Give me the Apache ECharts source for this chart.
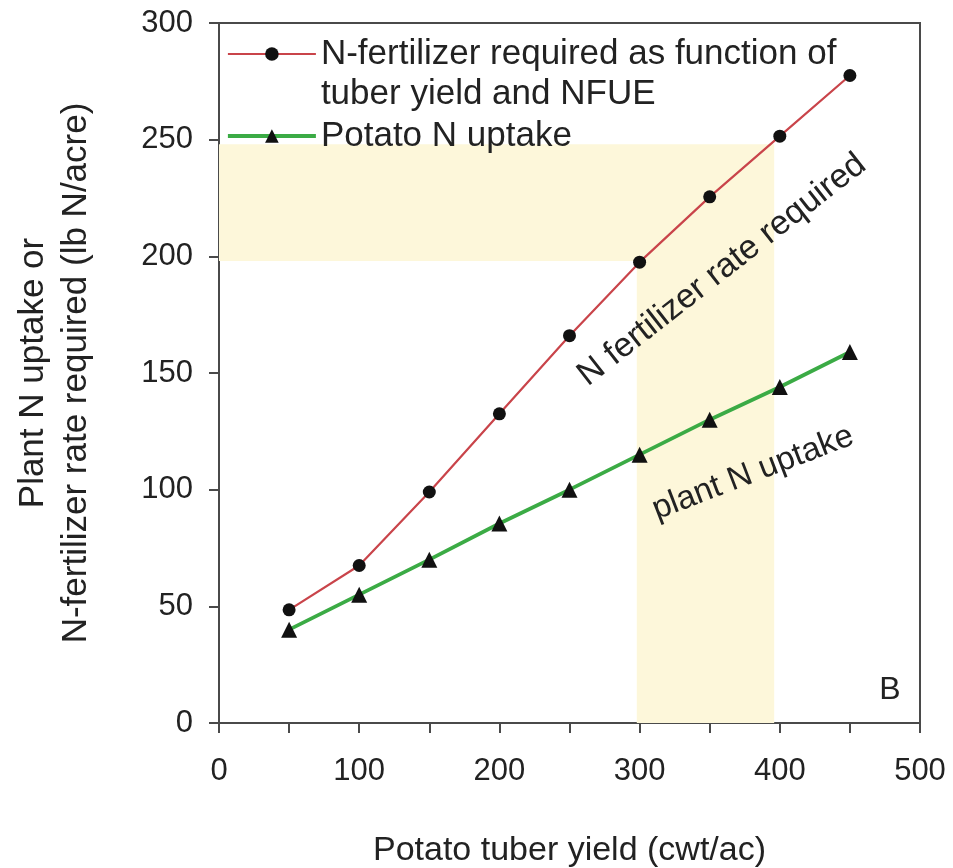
<!DOCTYPE html>
<html>
<head>
<meta charset="utf-8">
<script src="https://cdn.jsdelivr.net/npm/echarts@6/dist/echarts.min.js"></script>
<style>
  html, body { margin: 0; padding: 0; background: #fff; }
  #chart { width: 953px; height: 868px; }
</style>
</head>
<body>
<div id="chart"></div>
<script>
const FONT = '"Liberation Sans", Arial, sans-serif'
const INK = '#222'

// tuber yield (cwt/ac)
const yieldX = [50, 100, 150, 200, 250, 300, 350, 400, 450]
// N fertilizer required (lb N/acre)
const fertReq = [48.5, 67.5, 99, 132.5, 166, 197.5, 225.5, 251.5, 277.5]
// plant N uptake (lb N/acre)
const uptake = [40, 55, 70, 85.5, 100, 115, 130, 144, 159]

const xTickLabels = [0, 100, 200, 300, 400, 500]
const yTickLabels = [0, 50, 100, 150, 200, 250, 300]

// shaded target zone: [x0, y0], [x1, y1]
const hBand = [[0, 198], [396, 248]]
const vBand = [[298, 0], [396, 198]]

const NAME_FERT = 'N-fertilizer required as function of\ntuber yield and NFUE'
const NAME_UPTAKE = 'Potato N uptake'

const chart = echarts.init(document.getElementById('chart'), null, { renderer: 'canvas' })

const axisStyle = { color: '#4a4a4a', width: 2 }

chart.setOption({
  animation: false,
  textStyle: { fontFamily: FONT, color: INK },
  grid: {
    left: 219, top: 23, right: 33, bottom: 145,
    outerBoundsMode: 'none',
    show: true, borderColor: '#4a4a4a', borderWidth: 2, backgroundColor: 'transparent'
  },
  legend: {
    orient: 'vertical', left: 226, top: -6, padding: 0,
    itemWidth: 88, itemHeight: 17, itemGap: 2,
    lineStyle: { width: 'inherit' },
    textStyle: { fontFamily: FONT, fontSize: 35, color: INK, lineHeight: 40 },
    // empty first line keeps the marker level with the first text line
    formatter: name => (name === NAME_FERT ? '\n' + name : name),
    data: [NAME_FERT, NAME_UPTAKE]
  },
  xAxis: {
    type: 'value', min: 0, max: 500, interval: 50,
    name: 'Potato tuber yield (cwt/ac)', nameLocation: 'middle', nameGap: 111,
    nameTextStyle: { fontFamily: FONT, fontSize: 34, color: INK },
    axisLine: { show: true, lineStyle: axisStyle },
    axisTick: { show: true, length: 10, lineStyle: axisStyle },
    axisLabel: {
      margin: 33, fontSize: 31, fontFamily: FONT, color: INK,
      formatter: v => (xTickLabels.includes(v) ? String(v) : '')
    },
    splitLine: { show: false }
  },
  yAxis: {
    type: 'value', min: 0, max: 300, interval: 50,
    name: 'Plant N uptake or\nN-fertilizer rate required (lb N/acre)',
    nameLocation: 'middle', nameRotate: 90, nameGap: 121,
    nameTextStyle: { fontFamily: FONT, fontSize: 35, color: INK, lineHeight: 43 },
    axisLine: { show: true, lineStyle: axisStyle },
    axisTick: { show: true, length: 10, lineStyle: axisStyle },
    axisLabel: {
      margin: 26, fontSize: 31, fontFamily: FONT, color: INK,
      formatter: v => (yTickLabels.includes(v) ? String(v) : '')
    },
    splitLine: { show: false }
  },
  series: [
    {
      name: 'zone', type: 'line', data: [], z: 1, silent: true,
      markArea: {
        silent: true,
        itemStyle: { color: '#fdf7da', opacity: 1 },
        data: [
          [{ coord: hBand[0] }, { coord: hBand[1] }],
          [{ coord: vBand[0] }, { coord: vBand[1] }]
        ]
      }
    },
    {
      name: NAME_FERT, type: 'line', z: 3,
      data: yieldX.map((x, i) => [x, fertReq[i]]),
      symbol: 'circle', symbolSize: 13,
      itemStyle: { color: '#111' },
      lineStyle: { color: '#c9444a', width: 2.2 }
    },
    {
      name: NAME_UPTAKE, type: 'line', z: 3,
      data: yieldX.map((x, i) => [x, uptake[i]]),
      symbol: 'triangle', symbolSize: 16,
      itemStyle: { color: '#111' },
      lineStyle: { color: '#3bab45', width: 3.8 }
    }
  ],
  graphic: [
    {
      type: 'text', x: 722, y: 270, z: 100, rotation: 38 * Math.PI / 180, silent: true,
      style: { text: 'N fertilizer rate required', fontFamily: FONT, fontSize: 34, fill: INK, align: 'center', verticalAlign: 'middle' }
    },
    {
      type: 'text', x: 753, y: 473, z: 100, rotation: 21 * Math.PI / 180, silent: true,
      style: { text: 'plant N uptake', fontFamily: FONT, fontSize: 33, fill: INK, align: 'center', verticalAlign: 'middle' }
    },
    {
      type: 'text', x: 890, y: 690, z: 100, silent: true,
      style: { text: 'B', fontFamily: FONT, fontSize: 32, fill: INK, align: 'center', verticalAlign: 'middle' }
    }
  ]
})
</script>
</body>
</html>
